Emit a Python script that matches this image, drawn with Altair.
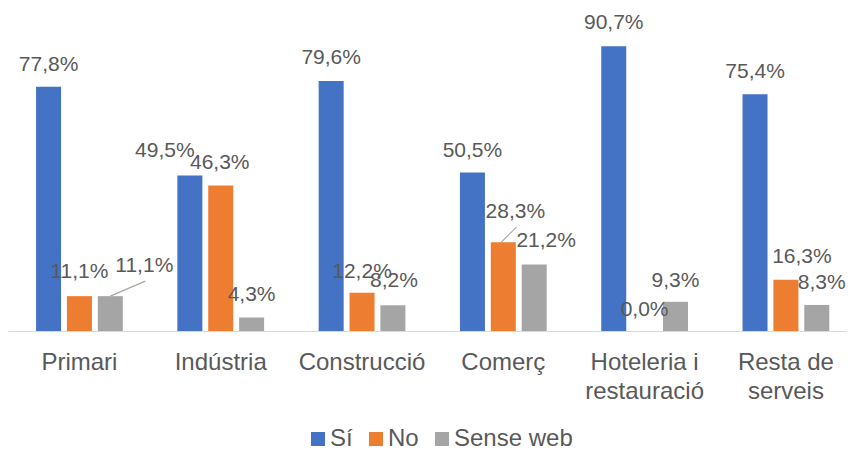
import altair as alt
import pandas as pd

categories = ["Primari", "Indústria", "Construcció", "Comerç",
              "Hoteleria i restauració", "Resta de serveis"]
series = ["Sí", "No", "Sense web"]
si = [77.8, 49.5, 79.6, 50.5, 90.7, 75.4]
no = [11.1, 46.3, 12.2, 28.3, 0.0, 16.3]
sense_web = [11.1, 4.3, 8.2, 21.2, 9.3, 8.3]
colors = ["#4472C4", "#ED7D31", "#A5A5A5"]

# label nudges in pixels (style only), relative to bar centre / bar top
label_dx = {"Sí": [0, -25, 0, 0, 0, 0],
            "No": [0, -1, 0, 12, 0, 16],
            "Sense web": [34, 0, 1, 12, 0, 5]}
label_dy = {"Sí": [-22, -25, -23, -21, -23, -22],
            "No": [-24, -23, -21, -30, -21, -23],
            "Sense web": [-30, -22, -24, -23, -21, -22]}
# leader lines (category, series, svg path of the line from the bar top, size)
leaders = [("Primari", "Sense web", "M0,0L1,-0.43", 4900),
           ("Comerç", "No", "M-0.13,0L0.87,-1", 900)]

values = {"Sí": si, "No": no, "Sense web": sense_web}
rows = []
for s in series:
    for c, v in zip(categories, values[s]):
        rows.append({"cat": c, "series": s, "value": v,
                     "label": f"{v:.1f}".replace(".", ",") + "%"})
df = pd.DataFrame(rows)

FONT = "Liberation Sans"
TXT = "#595959"

label_expr = ("datum.label == 'Hoteleria i restauració' ? ['Hoteleria i', 'restauració'] : "
              "datum.label == 'Resta de serveis' ? ['Resta de', 'serveis'] : datum.label")

x_enc = alt.X("cat:N", sort=categories,
              scale=alt.Scale(domain=categories, paddingInner=0.386, paddingOuter=0.162,
                              align=0.613),
              axis=alt.Axis(title=None, labelAngle=0, ticks=False, labelFontSize=24,
                            labelColor=TXT, labelFont=FONT, labelPadding=19,
                            labelLineHeight=29, domainColor="#D9D9D9", domainWidth=1,
                            labelExpr=label_expr))
xo_enc = alt.XOffset("series:N", sort=series,
                     scale=alt.Scale(domain=series, paddingInner=0.19, paddingOuter=0))
y_enc = alt.Y("value:Q", scale=alt.Scale(domain=[0, 100]), axis=None)

base = alt.Chart(df)

bars = base.mark_bar().encode(
    x=x_enc, xOffset=xo_enc, y=y_enc,
    color=alt.Color("series:N", sort=series,
                    scale=alt.Scale(domain=series, range=colors),
                    legend=alt.Legend(title=None, orient="none", direction="horizontal",
                                      legendX=298, legendY=410, symbolType="square",
                                      symbolSize=196, symbolStrokeWidth=0,
                                      labelFontSize=24, labelColor=TXT, labelFont=FONT,
                                      columnPadding=11, labelOffset=0, padding=0)),
)

layers = [bars]
for c, s, path, size in leaders:
    layers.append(
        base.transform_filter((alt.datum.cat == c) & (alt.datum.series == s))
        .mark_point(shape=path, size=size, filled=False, color="#A6A6A6",
                    strokeWidth=1.2, opacity=1)
        .encode(x=x_enc, xOffset=xo_enc, y=y_enc)
    )
for s in series:
    for i, c in enumerate(categories):
        layers.append(
            base.transform_filter((alt.datum.cat == c) & (alt.datum.series == s))
            .mark_text(dx=label_dx[s][i], dy=label_dy[s][i], baseline="middle",
                       align="center", fontSize=21, color=TXT, font=FONT)
            .encode(x=x_enc, xOffset=xo_enc, y=y_enc, text="label:N")
        )

chart = alt.layer(*layers).properties(
    width=839, height=314,
    autosize=alt.AutoSizeParams(type="none"),
    padding={"top": 9, "left": 0, "right": 0, "bottom": 120},
).configure_view(stroke=None)

chart.save("out.html", embed_options={"renderer": "svg", "actions": False})
